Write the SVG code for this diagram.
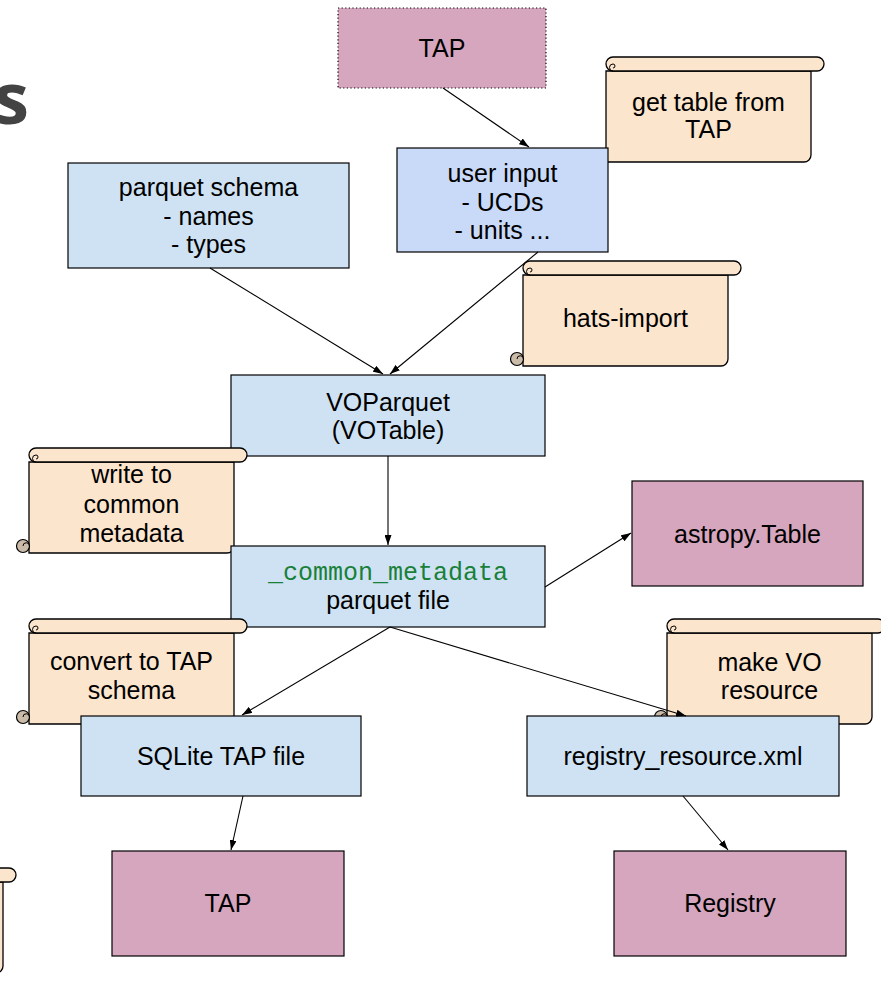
<svg xmlns="http://www.w3.org/2000/svg" xmlns:xlink="http://www.w3.org/1999/xlink" width="881" height="989" viewBox="0 0 881 989">
  <style>
    .box { stroke: #000; stroke-width: 1.2; }
    .blue { fill: #cfe2f3; }
    .blue2 { fill: #c9daf8; }
    .pink { fill: #d5a6bd; }
    .dotted { stroke-dasharray: 1.2 2.4; }
    .paper { fill: #fce5cd; stroke: #000; stroke-width: 1.3; }
    .curl { fill: #cbbba9; stroke: #000; stroke-width: 1.2; }
    .hook { fill: none; stroke: #000; stroke-width: 1; }
    .lbl { font-family: "Liberation Sans", Arial, sans-serif; font-size: 25px; fill: #000; text-anchor: middle; }
    .code { font-family: "Liberation Mono", "DejaVu Sans Mono", monospace; font-size: 25px; fill: #188038; text-anchor: middle; }
    .title { font-family: "Open Sans", "DejaVu Sans", sans-serif; font-size: 72px; font-weight: 700; fill: #434343; text-anchor: end; }
    .edge { stroke: #000; stroke-width: 1.1; fill: none; marker-end: url(#arrow); }
  </style>
  <defs>
    <marker id="arrow" markerUnits="userSpaceOnUse" markerWidth="10" markerHeight="7" refX="10" refY="3.5" orient="auto">
      <path d="M0,0 L10,3.5 L0,7 z" fill="#000"/>
    </marker>
    <!-- horizontal scroll shape, 231 x 105 -->
    <g id="scroll">
      <path class="paper" d="M13,14 V105 H211 A7 7 0 0 0 218,98 V14 Z"/>
      <rect class="paper" x="13" y="0" width="218" height="14" rx="7"/>
      <path class="hook" d="M20,14 A3.5 3.5 0 0 1 20,7 A2 2 0 0 1 20,11"/>
      <circle class="curl" cx="7" cy="98" r="6.5"/>
      <path class="hook" d="M13.5,98 A3.25 3.25 0 0 0 7,98"/>
    </g>
  </defs>

  <rect width="881" height="989" fill="#fff"/>

  <g id="parquet-schema">
    <rect class="box blue" x="68" y="163" width="281" height="105"/>
    <text class="lbl" x="208.5" y="196">parquet schema</text>
    <text class="lbl" x="208.5" y="224.5">- names</text>
    <text class="lbl" x="208.5" y="253">- types</text>
  </g>

  <g id="note-get-table">
    <use xlink:href="#scroll" x="593" y="57"/>
    <text class="lbl" x="708.5" y="111">get table from</text>
    <text class="lbl" x="708.5" y="138">TAP</text>
  </g>

  <g id="user-input">
    <rect class="box blue2" x="397" y="148" width="211" height="104"/>
    <text class="lbl" x="502.5" y="182">user input</text>
    <text class="lbl" x="502.5" y="211">- UCDs</text>
    <text class="lbl" x="502.5" y="239">- units ...</text>
  </g>

  <g id="tap-source">
    <rect class="box pink dotted" x="338" y="8" width="208" height="80"/>
    <text class="lbl" x="442" y="57">TAP</text>
  </g>

  <g id="note-hats-import">
    <use xlink:href="#scroll" x="510" y="261"/>
    <text class="lbl" x="625.5" y="327">hats-import</text>
  </g>

  <g id="voparquet">
    <rect class="box blue" x="231" y="375" width="314" height="81"/>
    <text class="lbl" x="388" y="410.5">VOParquet</text>
    <text class="lbl" x="388" y="439">(VOTable)</text>
  </g>

  <g id="note-write-common">
    <use xlink:href="#scroll" x="16" y="448"/>
    <text class="lbl" x="131.5" y="483">write to</text>
    <text class="lbl" x="131.5" y="513">common</text>
    <text class="lbl" x="131.5" y="542">metadata</text>
  </g>

  <g id="common-metadata">
    <rect class="box blue" x="231" y="546" width="314" height="81"/>
    <text class="code" x="388" y="580">_common_metadata</text>
    <text class="lbl" x="388" y="609">parquet file</text>
  </g>

  <g id="note-convert-tap">
    <use xlink:href="#scroll" x="16" y="619"/>
    <text class="lbl" x="131.5" y="670">convert to TAP</text>
    <text class="lbl" x="131.5" y="699">schema</text>
  </g>

  <g id="astropy-table">
    <rect class="box pink" x="632" y="481" width="231" height="105"/>
    <text class="lbl" x="747.5" y="543">astropy.Table</text>
  </g>

  <g id="note-make-vo">
    <use xlink:href="#scroll" x="654" y="619"/>
    <text class="lbl" x="769.5" y="671">make VO</text>
    <text class="lbl" x="769.5" y="699">resource</text>
  </g>

  <g id="sqlite-tap">
    <rect class="box blue" x="81" y="716" width="280" height="80"/>
    <text class="lbl" x="221" y="765">SQLite TAP file</text>
  </g>

  <g id="registry-resource">
    <rect class="box blue" x="527" y="716" width="312" height="80"/>
    <text class="lbl" x="683" y="765">registry_resource.xml</text>
  </g>

  <g id="tap-target">
    <rect class="box pink" x="112" y="851" width="232" height="105"/>
    <text class="lbl" x="228" y="912">TAP</text>
  </g>

  <g id="registry">
    <rect class="box pink" x="614" y="851" width="232" height="105"/>
    <text class="lbl" x="730" y="912">Registry</text>
  </g>

  <g id="note-offpage">
    <use xlink:href="#scroll" x="-215" y="868"/>
  </g>

  <g id="heading">
    <text class="title" x="29" y="124">s</text>
  </g>

  <g id="connectors">
    <path class="edge" d="M443,88 L529,147"/>
    <path class="edge" d="M210,268 L383,374"/>
    <path class="edge" d="M538,252 L390,374"/>
    <path class="edge" d="M388,456 L388,545"/>
    <path class="edge" d="M545,587 L631,533"/>
    <path class="edge" d="M390,627 L242,715"/>
    <path class="edge" d="M390,627 L686,716"/>
    <path class="edge" d="M243,796 L231,850"/>
    <path class="edge" d="M683,796 L728,850"/>
  </g>
</svg>
